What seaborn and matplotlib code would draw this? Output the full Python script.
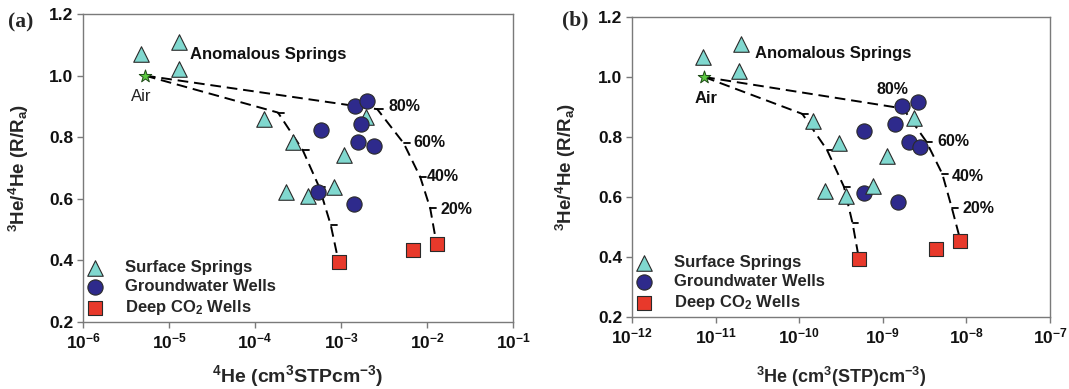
import matplotlib
matplotlib.use("Agg")
import matplotlib.pyplot as plt
import matplotlib.ticker as mticker
import numpy as np
import pandas as pd
import seaborn as sns

# ---------------- data ----------------
groups = ["Surface Springs", "Groundwater Wells", "Deep CO$_2$ Wells"]
pct_labels = ["80%", "60%", "40%", "20%"]

# panel (a): 4He concentration vs 3He/4He
a_ss_x = [4.7e-6, 1.29e-5, 1.29e-5, 1.27e-4, 2.75e-4, 1.07e-3, 2.29e-4, 4.17e-4, 8.3e-4, 1.96e-3]
a_ss_y = [1.070, 1.110, 1.020, 0.858, 0.786, 0.741, 0.621, 0.608, 0.638, 0.867]
a_gw_x = [1.45e-3, 2.03e-3, 5.86e-4, 1.69e-3, 1.58e-3, 2.40e-3, 5.40e-4, 1.41e-3]
a_gw_y = [0.902, 0.918, 0.824, 0.843, 0.786, 0.770, 0.621, 0.584]
a_co2_x = [9.4e-4, 6.9e-3, 1.29e-2]
a_co2_y = [0.394, 0.435, 0.454]
a_air_x, a_air_y = 5.25e-6, 1.0
# mixing curves: air -> 80% -> 60% -> 40% -> 20% -> deep end member
a_mixA_x = [5.25e-6, 1.85e-4, 3.59e-4, 5.6e-4, 7.6e-4, 9.4e-4]
a_mixA_y = [1.0, 0.880, 0.758, 0.637, 0.515, 0.394]
a_mixB_x = [5.25e-6, 2.64e-3, 5.37e-3, 8.36e-3, 1.09e-2, 1.29e-2]
a_mixB_y = [1.0, 0.891, 0.780, 0.670, 0.569, 0.454]
a_pct_x = [3.6e-3, 7.0e-3, 1.0e-2, 1.43e-2]
a_pct_y = [0.900, 0.782, 0.671, 0.564]

# panel (b): 3He concentration vs 3He/4He
b_ss_x = [6.98e-12, 2.04e-11, 1.89e-11, 1.48e-10, 3.0e-10, 1.11e-9, 2.02e-10, 3.6e-10, 7.6e-10, 2.37e-9]
b_ss_y = [1.066, 1.111, 1.020, 0.855, 0.781, 0.738, 0.621, 0.604, 0.638, 0.863]
b_gw_x = [1.70e-9, 2.61e-9, 5.89e-10, 1.41e-9, 2.06e-9, 2.78e-9, 5.89e-10, 1.52e-9]
b_gw_y = [0.904, 0.916, 0.820, 0.843, 0.785, 0.768, 0.615, 0.582]
b_co2_x = [5.2e-10, 4.3e-9, 8.5e-9]
b_co2_y = [0.392, 0.428, 0.454]
b_air_x, b_air_y = 7.3e-12, 1.0
b_mixA_x = [7.3e-12, 1.09e-10, 2.15e-10, 3.43e-10, 4.35e-10, 5.2e-10]
b_mixA_y = [1.0, 0.877, 0.757, 0.634, 0.512, 0.392]
b_mixB_x = [7.3e-12, 1.75e-9, 3.31e-9, 5.15e-9, 6.72e-9, 8.5e-9]
b_mixB_y = [1.0, 0.895, 0.785, 0.677, 0.562, 0.454]
b_pct_x = [8.4e-10, 4.5e-9, 6.7e-9, 9.1e-9]
b_pct_y = [0.957, 0.785, 0.668, 0.562]

a_xticks = [1e-6, 1e-5, 1e-4, 1e-3, 1e-2, 1e-1]
a_xticklabels = [r"$10^{-6}$", r"$10^{-5}$", r"$10^{-4}$", r"$10^{-3}$", r"$10^{-2}$", r"$10^{-1}$"]
b_xticks = [1e-12, 1e-11, 1e-10, 1e-9, 1e-8, 1e-7]
b_xticklabels = [r"$10^{-12}$", r"$10^{-11}$", r"$10^{-10}$", r"$10^{-9}$", r"$10^{-8}$", r"$10^{-7}$"]
yticks = [0.2, 0.4, 0.6, 0.8, 1.0, 1.2]

# ---------------- style ----------------
sns.set_theme(style="white")
plt.rcParams["font.family"] = ["Liberation Sans", "DejaVu Sans"]
plt.rcParams["mathtext.fontset"] = "custom"
plt.rcParams["mathtext.rm"] = "Liberation Sans"
plt.rcParams["mathtext.bf"] = "Liberation Sans:bold"
plt.rcParams["mathtext.it"] = "Liberation Sans:italic"
plt.rcParams["mathtext.sf"] = "Liberation Sans"
plt.rcParams["mathtext.default"] = "bf"

SS_FILL, GW_FILL, CO2_FILL, AIR_FILL = "#80d8cf", "#2e2a8c", "#e8392b", "#5cc940"
EDGE = "#2a2a2a"
SPINE = "#7a7a7a"
marker_style = {
    groups[0]: dict(marker="^", s=125, color=SS_FILL),
    groups[1]: dict(marker="o", s=120, color=GW_FILL),
    groups[2]: dict(marker="s", s=95, color=CO2_FILL),
}

fig = plt.figure(figsize=(10.69, 3.89), dpi=100)
W, H = 1069, 389
ax_a = fig.add_axes([83 / W, 1 - 322 / H, 430 / W, 308 / H])
ax_b = fig.add_axes([632 / W, 1 - 317 / H, 418 / W, 300 / H])


def draw_panel(ax, pts, air, mixes, pct_x, pct_y, order):
    ax.set_xscale("log")
    for xs, ys in mixes:
        ax.plot(xs, ys, color="black", lw=1.4, ls=(0, (5.5, 3)), zorder=2)
        # short tick marks at the 80/60/40/20 % positions
        for tx, ty in zip(xs[1:5], ys[1:5]):
            ax.plot([tx, tx * 1.17], [ty, ty], color="black", lw=1.3, zorder=2)
    for g in order:
        xs, ys = pts[g]
        st = marker_style[g]
        sns.scatterplot(x=xs, y=ys, ax=ax, marker=st["marker"], s=st["s"],
                        color=st["color"], edgecolor=EDGE, linewidth=0.8,
                        label=g, zorder=3)
    sns.scatterplot(x=[air[0]], y=[air[1]], ax=ax, marker="*", s=90,
                    color=AIR_FILL, edgecolor="#1d4a16", linewidth=0.7,
                    zorder=4, legend=False)
    for lab, px, py in zip(pct_labels, pct_x, pct_y):
        ax.text(px, py, lab, fontsize=11.5, fontweight="bold", va="center",
                ha="left", color="#111111")
    ax.set_ylim(0.2, 1.2)
    ax.set_yticks(yticks)
    ax.set_yticklabels([f"{v:.1f}" for v in yticks], fontweight="bold")
    ax.xaxis.set_minor_locator(mticker.NullLocator())
    ax.tick_params(axis="both", which="major", bottom=True, left=True,
                   direction="out", length=4, width=1, color=SPINE,
                   labelsize=12.5, pad=3, labelcolor="#111111")
    for sp in ax.spines.values():
        sp.set_color(SPINE)
        sp.set_linewidth(1.0)
    handles, labels = ax.get_legend_handles_labels()
    hmap = dict(zip(labels, handles))
    ax.legend([hmap[g] for g in groups], groups, loc="lower left",
              bbox_to_anchor=(0.005, 0.015), frameon=False,
              prop={"weight": "bold", "size": 12}, handlelength=1.2,
              handletextpad=1.2, labelspacing=0.25, borderaxespad=0,
              borderpad=0)


# panel (a)
draw_panel(ax_a,
           {groups[0]: (a_ss_x, a_ss_y), groups[1]: (a_gw_x, a_gw_y),
            groups[2]: (a_co2_x, a_co2_y)},
           (a_air_x, a_air_y),
           [(a_mixA_x, a_mixA_y), (a_mixB_x, a_mixB_y)],
           a_pct_x, a_pct_y, groups)
ax_a.set_xlim(1e-6, 1e-1)
ax_a.set_xticks(a_xticks)
ax_a.set_xticklabels(a_xticklabels)
ax_a.set_xlabel(r"$^{4}$He (cm$^{3}$STPcm$^{-3}$)", fontsize=14, fontweight="bold")
ax_a.set_ylabel(r"$^{3}$He/$^{4}$He (R/R$_{a}$)", fontsize=13.5, fontweight="bold")
ax_a.xaxis.set_label_coords(0.5, -0.135)
ax_a.yaxis.set_label_coords(-0.12, 0.5)
ax_a.text(1.75e-5, 1.07, "Anomalous Springs", fontsize=12, fontweight="bold",
          va="center", ha="left", color="#111111")
ax_a.text(4.8e-6, 0.932, "Air", fontsize=12, va="center", ha="center",
          color="#222222")

# panel (b)
draw_panel(ax_b,
           {groups[0]: (b_ss_x, b_ss_y), groups[1]: (b_gw_x, b_gw_y),
            groups[2]: (b_co2_x, b_co2_y)},
           (b_air_x, b_air_y),
           [(b_mixA_x, b_mixA_y), (b_mixB_x, b_mixB_y)],
           b_pct_x, b_pct_y, [groups[1], groups[0], groups[2]])
ax_b.set_xlim(1e-12, 1e-7)
ax_b.set_xticks(b_xticks)
ax_b.set_xticklabels(b_xticklabels)
ax_b.set_xlabel(r"$^{3}$He (cm$^{3}$(STP)cm$^{-3}$)", fontsize=13, fontweight="bold")
ax_b.set_ylabel(r"$^{3}$He/$^{4}$He (R/R$_{a}$)", fontsize=13.5, fontweight="bold")
ax_b.xaxis.set_label_coords(0.5, -0.16)
ax_b.yaxis.set_label_coords(-0.13, 0.5)
ax_b.text(3.0e-11, 1.077, "Anomalous Springs", fontsize=12, fontweight="bold",
          va="center", ha="left", color="#111111")
ax_b.text(7.6e-12, 0.927, "Air", fontsize=12, fontweight="bold", va="center",
          ha="center", color="#111111")

# panel letters
fig.text(8 / W, 1 - 22 / H, "(a)", family=["Liberation Serif", "DejaVu Serif"],
         fontweight="bold", fontsize=15.5, va="center", ha="left")
fig.text(562 / W, 1 - 20 / H, "(b)", family=["Liberation Serif", "DejaVu Serif"],
         fontweight="bold", fontsize=15.5, va="center", ha="left")

fig.savefig("out.png", dpi=100)
